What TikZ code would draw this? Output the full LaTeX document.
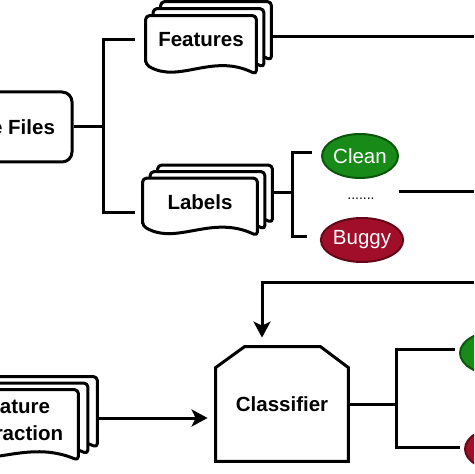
\documentclass[tikz,border=0pt]{standalone}
\usepackage{fontspec}
\setmainfont{Liberation Sans}
\usetikzlibrary{calc,arrows.meta,shapes.geometric}
\pgfdeclarelayer{background}
\pgfsetlayers{background,main}
\definecolor{cleanfill}{RGB}{24,138,24}
\definecolor{cleanline}{RGB}{12,85,12}
\definecolor{buggyfill}{RGB}{160,14,42}
\definecolor{buggyline}{RGB}{100,8,25}
% one page of a document stack, drawn from the corners of node #1, shifted by #2 (px)
\newcommand\DocPage[2]{%
  \filldraw[page] let \p1=($(#1.north west)+(#2)$), \p2=($(#1.south east)+(#2)$) in
    (\x1,\y2) -- (\x1,\y1) -- (\x2,\y1) -- (\x2,{\y2-5pt})
    .. controls ({\x1+0.6*(\x2-\x1)},{\y2+6pt}) and ({\x1+0.3*(\x2-\x1)},{\y2-10pt}) .. (\x1,\y2) -- cycle;}
\begin{document}
\begin{tikzpicture}[x=0.5pt,y=-0.5pt,
  conn/.style={line width=1.5pt},
  arr/.style={line width=1.5pt,-{Stealth[length=8pt,width=8.5pt,inset=2pt]}},
  box/.style={font=\fontsize{10.25}{13.5}\selectfont\bfseries, align=center, inner sep=0pt},
  page/.style={draw, fill=white, line width=1.5pt, rounded corners=2pt, line join=round},
  oval/.style={ellipse, draw, line width=1pt, minimum width=38pt, minimum height=22pt,
    inner sep=0pt, text=white, font=\fontsize{10.25}{12}\selectfont}]
\clip (0,0) rectangle (474,474);

% nodes
\node[box, draw, line width=1.5pt, rounded corners=5pt, minimum width=78pt, minimum height=35pt] (src) at (-6,127) {Source Files};
\node[box, minimum width=55pt, minimum height=24pt] (feat) at (201,40) {Features};
\node[box, minimum width=57pt, minimum height=23.5pt] (lab) at (200,202) {Labels};
\node[box, minimum width=65pt, minimum height=30pt] (fe) at (13,420) {Feature\\Extraction};
\node[box, minimum width=66pt, minimum height=57pt] (cls) at (282,404) {Classifier};
\node[oval, fill=cleanfill, draw=cleanline] (clean) at (360,156) {Clean};
\node[oval, fill=buggyfill, draw=buggyline, minimum width=36pt] (buggy) at (362,240) {Buggy};
\node[font=\fontsize{7}{8}\selectfont, inner sep=0pt] (dots) at (361,199) {.......};
\node[oval, fill=cleanfill, draw=cleanline] (clean2) at (498,353) {};
\node[oval, fill=buggyfill, draw=buggyline] (buggy2) at (503,449) {};

% document stacks
\begin{pgfonlayer}{background}
  \DocPage{feat}{15,-14}
  \DocPage{feat}{7.5,-7}
  \DocPage{feat}{0,0}
  \DocPage{lab}{15,-13}
  \DocPage{lab}{7.5,-6.5}
  \DocPage{lab}{0,0}
  \DocPage{fe}{19,-13}
  \DocPage{fe}{9.5,-6.5}
  \DocPage{fe}{0,0}
\end{pgfonlayer}

% classifier shape
\draw[line width=1.5pt] (cls.south west) -- ($(cls.north west)+(0,21)$) -- ($(cls.north west)+(29,0)$)
  -- ($(cls.north east)+(-28,0)$) -- ($(cls.north east)+(0,21)$) -- (cls.south east) -- cycle;

% connectors
\coordinate (b1) at (103,127);
\coordinate (b1t) at (103,40);
\coordinate (b1b) at (103,213);
\draw[conn] (src.east) -- (b1);
\draw[conn, shorten <=5.5pt, shorten >=4pt] (feat.west |- b1t) -- (b1t) -- (b1b) -- (lab.west |- b1b);

\coordinate (fout) at (474,37);
\draw[conn] ([shift={(7.5pt,1.5pt)}]feat.east) -- (fout);

\coordinate (b2) at (292,193);
\coordinate (b2t) at (292,153);
\coordinate (b2b) at (292,237);
\draw[conn] ([shift={(7.5pt,4.5pt)}]lab.east) -- (b2);
\draw[conn, shorten <=4.5pt, shorten >=6.5pt] (clean.west |- b2t) -- (b2t) -- (b2b) -- (buggy.west |- b2b);

\coordinate (cout) at (474,192);
\draw[conn] (clean.east |- cout) -- (cout);

\coordinate (fb) at (474,283);
\draw[arr, shorten >=4.5pt] (fb) -| ([xshift=-10pt]cls.north);

\draw[arr, shorten >=4pt] ([shift={(9.5pt,1pt)}]fe.east) -- ([yshift=-7pt]cls.west);

\coordinate (b3) at (396,404);
\coordinate (b3t) at (396,349);
\coordinate (b3b) at (396,447);
\draw[conn] (cls.east) -- (b3);
\draw[conn, shorten <=2pt, shorten >=2pt] (clean2.west |- b3t) -- (b3t) -- (b3b) -- (buggy2.west |- b3b);
\end{tikzpicture}
\end{document}
